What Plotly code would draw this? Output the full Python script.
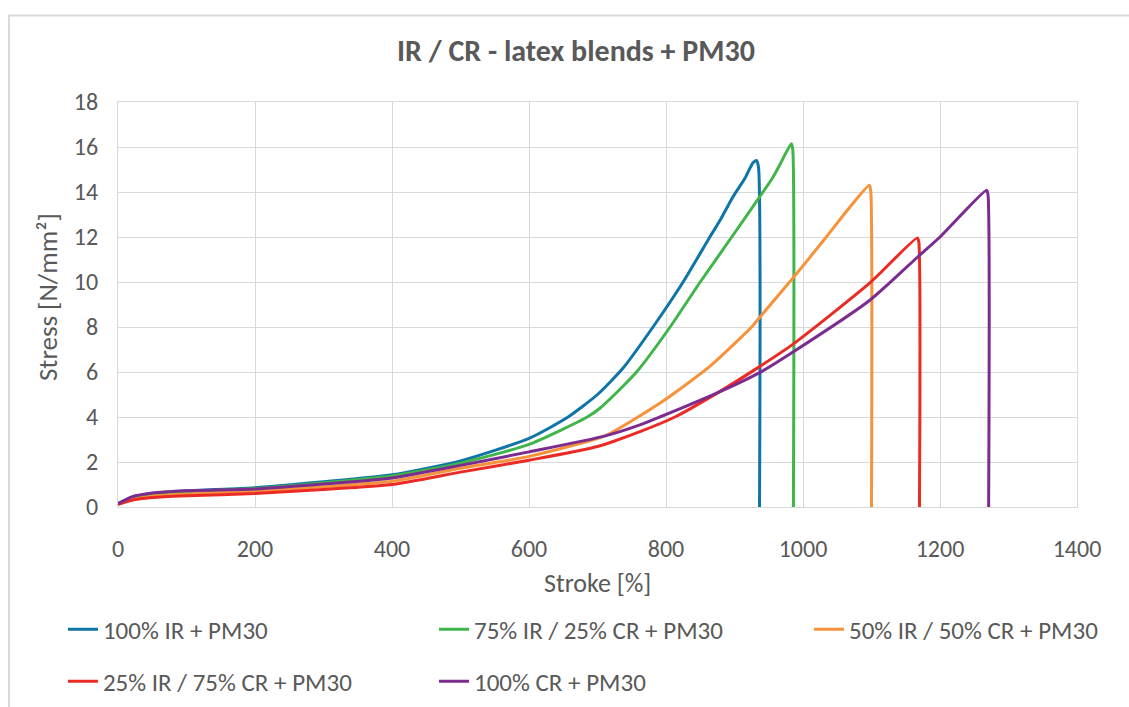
import plotly.graph_objects as go

# Tensile test curves: stroke [%] vs stress [N/mm²]
names = [
    "100% IR + PM30",
    "75% IR / 25% CR + PM30",
    "50% IR / 50% CR + PM30",
    "25% IR / 75% CR + PM30",
    "100% CR + PM30",
]
colors = ["#0f74a6", "#3fb54a", "#f6923a", "#ec2a25", "#7c2b8f"]

stroke_ir100 = [0, 20, 50, 100, 200, 300, 400, 500, 600, 657, 700, 738, 781, 825, 864, 880, 898, 915, 927, 932, 935, 936.5]
stress_ir100 = [0.15, 0.42, 0.6, 0.72, 0.86, 1.12, 1.43, 2.05, 3.05, 4.0, 5.0, 6.2, 8.0, 10.0, 12.0, 12.8, 13.8, 14.6, 15.3, 15.4, 15.1, 0]

stroke_ir75 = [0, 20, 50, 100, 200, 300, 400, 500, 600, 685, 704, 757, 806, 850, 896, 937, 955, 966, 983, 985, 986]
stress_ir75 = [0.15, 0.38, 0.55, 0.68, 0.82, 1.08, 1.38, 1.95, 2.78, 4.0, 4.4, 6.0, 8.0, 10.0, 12.0, 13.8, 14.6, 15.2, 16.14, 15.9, 0]

stroke_ir50 = [0, 20, 50, 100, 200, 300, 400, 500, 600, 710, 752, 800, 864, 925, 936, 986, 1034, 1065, 1097, 1099, 1100]
stress_ir50 = [0.12, 0.32, 0.48, 0.58, 0.7, 0.9, 1.14, 1.72, 2.25, 3.15, 3.87, 4.8, 6.25, 8.0, 8.4, 10.2, 12.0, 13.2, 14.3, 14.0, 0]

stroke_ir25 = [0, 20, 50, 100, 200, 300, 400, 500, 600, 700, 762, 813, 874, 932, 986, 1098, 1167, 1169, 1170]
stress_ir25 = [0.12, 0.3, 0.42, 0.5, 0.6, 0.78, 1.0, 1.55, 2.08, 2.69, 3.35, 4.0, 5.05, 6.15, 7.25, 9.97, 11.96, 11.8, 0]

stroke_cr100 = [0, 20, 50, 100, 200, 300, 400, 500, 600, 710, 762, 791, 874, 936, 986, 1098, 1167, 1200, 1268, 1270, 1271]
stress_cr100 = [0.15, 0.45, 0.62, 0.72, 0.8, 1.02, 1.29, 1.85, 2.45, 3.15, 3.65, 4.0, 5.06, 5.96, 6.9, 9.2, 11.1, 12.0, 14.08, 13.9, 0]

series_x = [stroke_ir100, stroke_ir75, stroke_ir50, stroke_ir25, stroke_cr100]
series_y = [stress_ir100, stress_ir75, stress_ir50, stress_ir25, stress_cr100]

x_ticks = [0, 200, 400, 600, 800, 1000, 1200, 1400]
y_ticks = [0, 2, 4, 6, 8, 10, 12, 14, 16, 18]

FONT = "Calibri, Carlito, 'Open Sans', sans-serif"
TEXT = "#595959"
GRID = "#d9d9d9"

# one legend box per entry: three entries on the first row, two on the second
legend_cols = [-0.0574, 0.3295, 0.7205]
legend_rows = [-0.3025, -0.4307]
legend_slots = [(0, 0), (1, 0), (2, 0), (0, 1), (1, 1)]
legend_ids = ["legend", "legend2", "legend3", "legend4", "legend5"]

fig = go.Figure()
for i, (name, col, xs, ys) in enumerate(zip(names, colors, series_x, series_y)):
    fig.add_trace(go.Scatter(
        x=xs, y=ys, name=name, mode="lines", showlegend=True,
        line=dict(color=col, width=3, shape="spline", smoothing=0.6),
        legend=legend_ids[i],
    ))

axis_common = dict(
    showgrid=True, gridcolor=GRID, gridwidth=1,
    showline=True, linecolor=GRID, linewidth=1, mirror=True,
    zeroline=False, ticks="",
    tickfont=dict(family=FONT, size=24, color=TEXT),
)

legend_layouts = {}
for lid, (c, r) in zip(legend_ids, legend_slots):
    legend_layouts[lid] = dict(
        orientation="h", x=legend_cols[c], xanchor="left",
        y=legend_rows[r], yanchor="middle",
        font=dict(family=FONT, size=25, color=TEXT),
        bgcolor="rgba(0,0,0,0)",
    )

fig.update_layout(
    width=1129, height=707,
    margin=dict(l=118, r=52, t=102, b=200, autoexpand=False),
    paper_bgcolor="white", plot_bgcolor="white",
    font=dict(family=FONT, color=TEXT),
    showlegend=True,
    title=dict(
        text="<b>IR / CR - latex blends + PM30</b>",
        font=dict(family=FONT, size=30, color=TEXT),
        x=576 / 1129, xref="container", xanchor="center",
        y=1 - 50 / 707, yref="container", yanchor="middle",
    ),
    xaxis=dict(range=[0, 1400], tickvals=x_ticks, ticklabelstandoff=20, **axis_common),
    yaxis=dict(range=[0, 18], tickvals=y_ticks, ticklabelstandoff=14, **axis_common),
    annotations=[
        dict(text="Stress [N/mm²]", xref="paper", yref="paper", x=-0.074, y=0.5185,
             textangle=-90, showarrow=False, xanchor="center", yanchor="middle",
             font=dict(family=FONT, size=27, color=TEXT)),
        dict(text="Stroke [%]", xref="paper", yref="paper", x=0.5, y=-0.1866,
             showarrow=False, xanchor="center", yanchor="middle",
             font=dict(family=FONT, size=26, color=TEXT)),
    ],
    shapes=[
        dict(type="rect", xref="paper", yref="paper", x0=-0.1137, x1=1.07, y0=-0.52, y1=1.2138,
             line=dict(color=GRID, width=2), fillcolor="rgba(0,0,0,0)", layer="below"),
    ],
    **legend_layouts,
)

fig.write_html("out.html")
